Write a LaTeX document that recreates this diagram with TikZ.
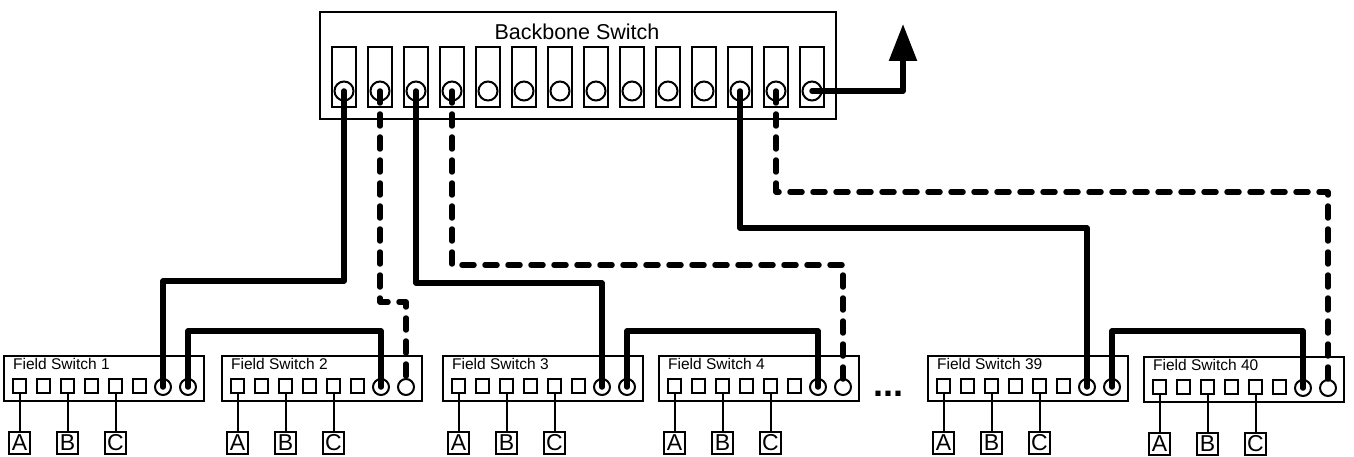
\documentclass[tikz,border=0pt]{standalone}
\usepackage{fontspec}
\setmainfont{Liberation Sans}
\usetikzlibrary{arrows.meta}
\newcommand{\fsw}[4]{%
  \node[fsbox,anchor=north west] (#1) at (#2,#3) {};
  \node[anchor=base west,font=\fontsize{15.5}{15.5}\selectfont,inner sep=0pt] (#1t) at ({#2+10},{#3+14}) {#4};
  \foreach \k in {1,...,6} {\node[fsport] (#1s\k) at ({#2+16.5+24*(\k-1)},{#3+31}) {};}
  \node[fshole] (#1c7) at ({#2+160},{#3+32}) {};
  \node[fshole] (#1c8) at ({#2+185},{#3+32}) {};
  \node[dev] (#1A) at ({#2+16.5},{#3+88}) {A};
  \node[dev] (#1B) at ({#2+64.5},{#3+88}) {B};
  \node[dev] (#1C) at ({#2+112.5},{#3+88}) {C};
  \draw[thinline] (#1s1.south) -- (#1A.north);
  \draw[thinline] (#1s3.south) -- (#1B.north);
  \draw[thinline] (#1s5.south) -- (#1C.north);
}
\begin{document}
\begin{tikzpicture}[x=1pt,y=-1pt,
  thinline/.style={line width=2pt},
  bbbox/.style={draw,line width=2pt,minimum width=516pt,minimum height=107pt,inner sep=0pt},
  fsbox/.style={draw,line width=2pt,minimum width=200pt,minimum height=45pt,inner sep=0pt},
  bbport/.style={draw,line width=2pt,minimum width=24pt,minimum height=60pt,inner sep=0pt},
  bbhole/.style={draw,circle,line width=2pt,minimum size=19pt,inner sep=0pt},
  fsport/.style={draw,line width=2pt,minimum width=13pt,minimum height=14pt,inner sep=0pt},
  fshole/.style={draw,circle,line width=2pt,minimum size=16pt,inner sep=0pt},
  dev/.style={draw,line width=2pt,minimum width=21pt,minimum height=22pt,inner sep=0pt,font=\fontsize{23}{23}\selectfont},
  cable/.style={line width=5.5pt,line join=round,line cap=round},
  dcable/.style={cable,dash pattern=on 12pt off 11pt},
]
\useasboundingbox (0,0) rectangle (1354,457);
% backbone switch
\node[bbbox,anchor=north west] (bb) at (319,11) {};
\node[font=\fontsize{21.5}{21.5}\selectfont,anchor=base] (bbl) at (577,40) {Backbone Switch};
\foreach \i in {1,...,14} {
  \node[bbport] (bp\i) at ({344+36*(\i-1)},77) {};
  \node[bbhole] (bh\i) at ({344+36*(\i-1)},91) {};
}
% field switches
\fsw{f1}{3}{355}{Field Switch 1}
\fsw{f2}{221}{355}{Field Switch 2}
\fsw{f3}{442}{355}{Field Switch 3}
\fsw{f4}{658}{355}{Field Switch 4}
\fsw{f39}{927}{355}{Field Switch 39}
\fsw{f40}{1143}{356}{Field Switch 40}
\node[font=\fontsize{36}{36}\selectfont\bfseries,anchor=base,inner sep=0pt] (dots) at (888,396) {...};
% links between field switches
\draw[cable] (f1c8.center) -- ++(0,-56) -| (f2c7.center);
\draw[cable] (f3c8.center) -- ++(0,-56) -| (f4c7.center);
\draw[cable] (f39c8.center) -- ++(0,-56) -| (f40c7.center);
% backbone cables
\draw[cable] (bh1.center) -- ++(0,190) -| (f1c7.center);
\draw[dcable] (bh2.center) -- ++(0,211) -| (f2c8.center);
\draw[cable] (bh3.center) -- ++(0,192) -| (f3c7.center);
\draw[dcable] (bh4.center) -- ++(0,174) -| (f4c8.center);
\draw[cable] (bh12.center) -- ++(0,137) -| (f39c7.center);
\draw[dcable] (bh13.center) -- ++(0,101) -| (f40c8.center);
\coordinate (up) at (903,24);
\draw[cable,-{Triangle[length=37pt,width=27pt]}] (bh14.center) -| (up);
\end{tikzpicture}
\end{document}
